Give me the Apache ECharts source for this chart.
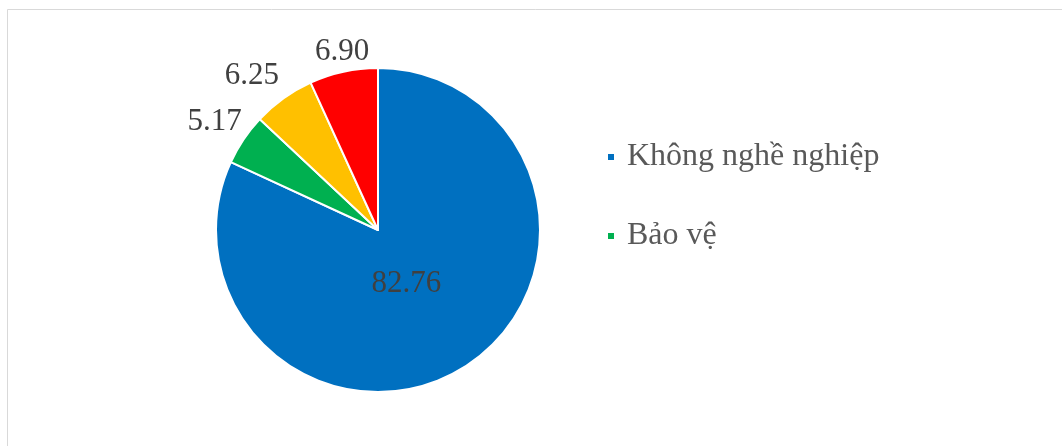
<!DOCTYPE html>
<html>
<head>
<meta charset="utf-8">
<script src="https://cdn.jsdelivr.net/npm/echarts@6/dist/echarts.min.js"></script>
<style>
html,body{margin:0;padding:0;background:#fff;}
#chart{width:1062px;height:446px;}
</style>
</head>
<body>
<div id="chart"></div>
<script>
const categories = ['Không nghề nghiệp', 'Bảo vệ', 'Nông nghiệp', 'Khác'];
const values = [82.76, 5.17, 6.25, 6.90];
const colors = ['#0070C0', '#00B050', '#FFC000', '#FF0000'];
const legendNames = ['Không nghề nghiệp', 'Bảo vệ'];

const labelFont = '"Liberation Serif", "Times New Roman", serif';
const labelCfg = [
  {position: 'inside', offset: [-17, -17]},
  {position: 'outside', offset: [8, -14]},
  {position: 'outside', offset: [4, -18]},
  {position: 'outside', offset: [32, -14]}
];

const chart = echarts.init(document.getElementById('chart'));
chart.setOption({
  animation: false,
  backgroundColor: '#fff',
  graphic: [{
    type: 'rect',
    shape: {x: 7.5, y: 9.5, width: 1100, height: 500},
    style: {fill: 'none', stroke: '#d9d9d9', lineWidth: 1}
  }],
  legend: {
    data: legendNames,
    orient: 'vertical',
    left: 601,
    top: 136,
    itemWidth: 8,
    itemHeight: 8,
    itemGap: 47,
    icon: 'rect',
    textStyle: {fontFamily: labelFont, fontSize: 32, lineHeight: 32, color: '#595959', padding: [0, 0, 0, 7]}
  },
  series: [{
    type: 'pie',
    center: [378, 230],
    radius: [0, 162],
    startAngle: 90,
    clockwise: true,
    avoidLabelOverlap: false,
    itemStyle: {borderColor: '#fff', borderWidth: 2},
    labelLine: {show: false, length: 6, length2: 0},
    label: {
      fontFamily: labelFont,
      fontSize: 31,
      color: '#404040',
      formatter: p => p.value.toFixed(2)
    },
    data: categories.map((c, i) => ({
      name: c,
      value: values[i],
      itemStyle: {color: colors[i]},
      label: labelCfg[i]
    }))
  }]
});
</script>
</body>
</html>
